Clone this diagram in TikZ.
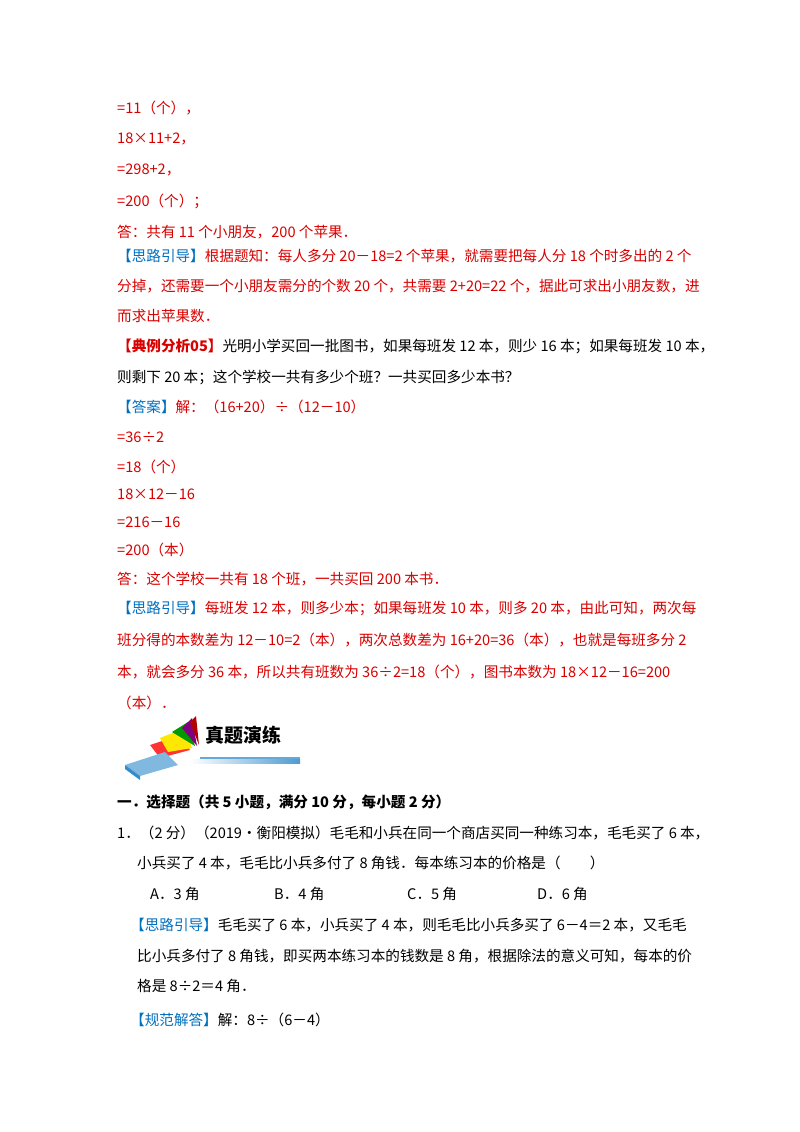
\documentclass[tikz,border=0pt]{standalone}
\usepackage{fontspec}
\setmainfont{Liberation Serif}
\newfontfamily\cjk{Noto Sans CJK SC}
\begin{document}
\begin{tikzpicture}[x=1pt,y=-1pt,
  t/.style={anchor=west,inner sep=0pt,font=\cjk\fontsize{14.6}{18}\selectfont},
  r/.style={t,text=red!85!black},
  k/.style={t,text=black}]
\definecolor{bl}{RGB}{0,112,192}
\def\B#1{\textcolor{bl}{#1}}
\useasboundingbox (0,0) rectangle (800,1132);
\fill[white] (0,0) rectangle (800,1132);
\node[r] (l1) at (117,108) {=11（个），};
\node[r] (l2) at (117,139) {18×11+2，};
\node[r] (l3) at (117,170) {=298+2，};
\node[r] (l4) at (117,201) {=200（个）；};
\node[r] (l5) at (117,232) {答：共有 11 个小朋友，200 个苹果．};
\node[r] (l6) at (117,256) {\B{【思路引导】}根据题知：每人多分 20－18=2 个苹果，就需要把每人分 18 个时多出的 2 个};
\node[r] (l7) at (117,286) {分掉，还需要一个小朋友需分的个数 20 个，共需要 2+20=22 个，据此可求出小朋友数，进};
\node[r] (l8) at (117,316) {而求出苹果数．};
\node[k] (l9) at (117,346) {\textcolor{red!85!black}{\bfseries【典例分析05】}光明小学买回一批图书，如果每班发 12 本，则少 16 本；如果每班发 10 本，};
\node[k] (l10) at (117,377) {则剩下 20 本；这个学校一共有多少个班？一共买回多少本书？};
\node[r] (l11) at (117,407) {\B{【答案】}解：（16+20）÷（12－10）};
\node[r] (l12) at (117,437) {=36÷2};
\node[r] (l13) at (117,467) {=18（个）};
\node[r] (l14) at (117,494) {18×12－16};
\node[r] (l15) at (117,522) {=216－16};
\node[r] (l16) at (117,550) {=200（本）};
\node[r] (l17) at (117,579) {答：这个学校一共有 18 个班，一共买回 200 本书．};
\node[r] (l18) at (117,608) {\B{【思路引导】}每班发 12 本，则多少本；如果每班发 10 本，则多 20 本，由此可知，两次每};
\node[r] (l19) at (117,640) {班分得的本数差为 12－10=2（本），两次总数差为 16+20=36（本），也就是每班多分 2};
\node[r] (l20) at (117,672) {本，就会多分 36 本，所以共有班数为 36÷2=18（个），图书本数为 18×12－16=200};
\node[r] (l21) at (117,703) {（本）．};
% icon
\shade[left color=white,right color=bl!70] (190,759) rectangle (300,763);
\fill[bl!60] (200,757) rectangle (300,759);
\fill[red!80] (150,745) -- (180,735) -- (190,750) -- (160,758) -- cycle;
\fill[yellow!90!orange] (160,738) -- (185,728) -- (192,748) -- (168,752) -- cycle;
\fill[green!60!black] (172,732) -- (188,722) -- (195,746) -- cycle;
\fill[violet] (182,728) -- (192,718) -- (197,746) -- cycle;
\fill[red!70!black] (190,722) -- (196,716) -- (199,745) -- cycle;
\fill[bl!50] (125,765) -- (165,752) -- (178,765) -- (140,776) -- cycle;
\fill[bl!80] (125,765) -- (140,776) -- (140,780) -- (125,769) -- cycle;
\node[t,font=\cjk\bfseries\fontsize{19}{22}\selectfont] (title) at (205,735) {真题演练};
\node[k] (e1) at (117,802) {\bfseries 一．选择题（共 5 小题，满分 10 分，每小题 2 分）};
\node[k] (e2) at (117,833) {1．（2 分）（2019•衡阳模拟）毛毛和小兵在同一个商店买同一种练习本，毛毛买了 6 本，};
\node[k] (e3) at (137,863) {小兵买了 4 本，毛毛比小兵多付了 8 角钱．每本练习本的价格是（\qquad ）};
\node[k] (a) at (150,894) {A．3 角};
\node[k] (b) at (274,894) {B．4 角};
\node[k] (c) at (407,894) {C．5 角};
\node[k] (d) at (537,894) {D．6 角};
\node[k] (e4) at (130,925) {\B{【思路引导】}毛毛买了 6 本，小兵买了 4 本，则毛毛比小兵多买了 6－4＝2 本，又毛毛};
\node[k] (e5) at (137,956) {比小兵多付了 8 角钱，即买两本练习本的钱数是 8 角，根据除法的意义可知，每本的价};
\node[k] (e6) at (137,986) {格是 8÷2＝4 角．};
\node[k] (e7) at (130,1020) {\B{【规范解答】}解：8÷（6－4）};
\end{tikzpicture}
\end{document}
